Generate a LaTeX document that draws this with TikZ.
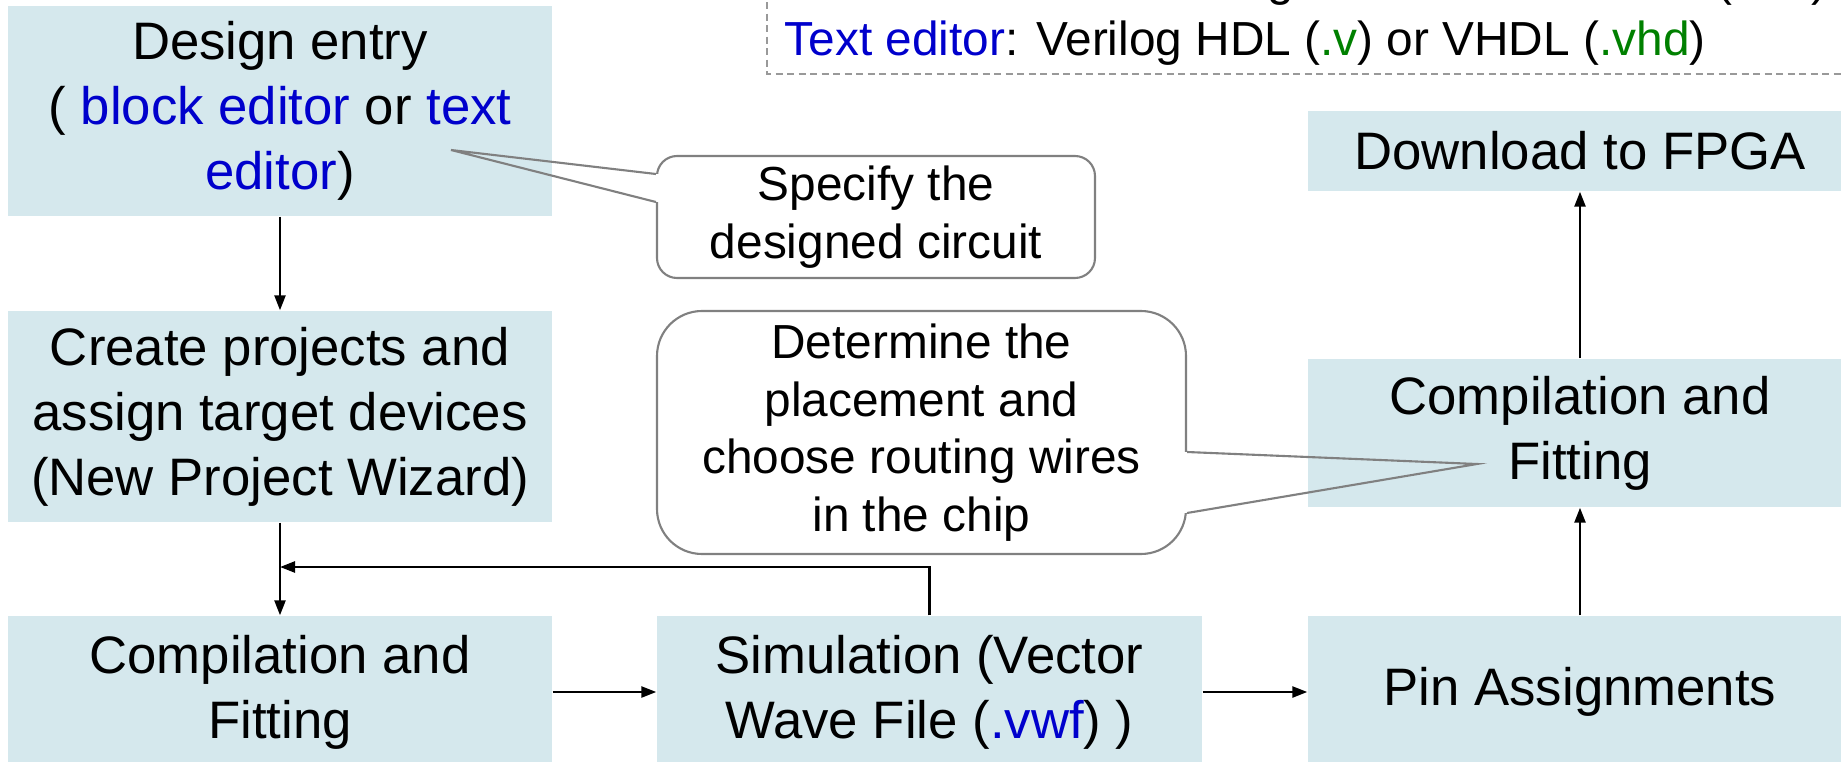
\documentclass[tikz,border=0pt]{standalone}
\usepackage{fontspec}
\setmainfont{Liberation Sans}
\usetikzlibrary{arrows.meta}

\definecolor{stepfill}{RGB}{213,232,237}
\definecolor{edblue}{RGB}{0,0,204}
\definecolor{edgreen}{RGB}{0,128,0}

\begin{document}
\begin{tikzpicture}[
    flowbox/.style={rectangle, fill=stepfill, minimum width=5.44cm, align=center, inner sep=2pt, font=\fontsize{15}{18.5}\selectfont},
    bubble/.style={rectangle, draw=black!50, line width=0.6pt, fill=white, align=center, inner sep=2pt, font=\fontsize{13.6}{16.4}\selectfont},
    pointer/.style={draw=black!50, line width=0.6pt},
    flow/.style={line width=0.7pt, -{Triangle[length=0.15cm, width=0.11cm]}},
    notedash/.style={draw=black!40, line width=0.6pt, dash pattern=on 0.07cm off 0.045cm},
    notetext/.style={anchor=base west, inner sep=0pt, font=\fontsize{13.6}{16.4}\selectfont}
]
\clip (0,0) rectangle (18.41,-7.62);

% ==================== EDITOR NOTE ====================
\draw[notedash] (7.67,0.9) rectangle (19.0,-0.74);
\node[notetext] (blockline) at (7.84,0.05) {{\color{edblue}Block editor}: Block Diagram/Schematic File ({\color{edgreen}.bdf})};
\node[notetext] (textline) at (7.84,-0.55) {{\color{edblue}Text editor}: Verilog HDL ({\color{edgreen}.v}) or VHDL ({\color{edgreen}.vhd})};

% ==================== DESIGN FLOW STEPS ====================
\node[flowbox, minimum height=2.10cm] (entry) at (2.80,-1.11) {Design entry\\( {\color{edblue}block editor} or {\color{edblue}text}\\{\color{edblue}editor})};
\node[flowbox, minimum height=2.11cm] (project) at (2.80,-4.165) {Create projects and\\assign target devices\\(New Project Wizard)};
\node[flowbox, minimum height=1.52cm] (compile1) at (2.80,-6.92) {Compilation and\\Fitting};
\node[flowbox, minimum height=1.52cm, minimum width=5.45cm] (simulate) at (9.295,-6.92) {Simulation (Vector\\Wave File ({\color{edblue}.vwf}) )};
\node[flowbox, minimum height=1.52cm] (pins) at (15.80,-6.92) {Pin Assignments};
\node[flowbox, minimum height=1.48cm] (compile2) at (15.80,-4.33) {Compilation and\\Fitting};
\node[flowbox, minimum height=0.80cm] (download) at (15.80,-1.51) {Download to FPGA};

% ==================== CALLOUTS ====================
\node[bubble, minimum width=4.38cm, minimum height=1.22cm, rounded corners=0.2cm] (specify) at (8.76,-2.17) {Specify the\\designed circuit};
\node[bubble, minimum width=5.29cm, minimum height=2.43cm, rounded corners=0.45cm] (placement) at (9.215,-4.325) {Determine the\\placement and\\choose routing wires\\in the chip};

\coordinate (tip_spec) at (4.51,-1.50);
\coordinate (tip_place) at (14.77,-4.64);

% open the border where the pointers leave
\fill[white] ([xshift=-0.03cm, yshift=0.43cm]specify.west) rectangle ([xshift=0.03cm, yshift=0.15cm]specify.west);
\fill[white] ([xshift=-0.03cm, yshift=-0.195cm]placement.east) rectangle ([xshift=0.03cm, yshift=-0.805cm]placement.east);
\draw[pointer] ([yshift=0.43cm]specify.west) -- (tip_spec) -- ([yshift=0.15cm]specify.west);
\draw[pointer] ([yshift=-0.195cm]placement.east) -- (tip_place) -- ([yshift=-0.805cm]placement.east);

% ==================== FLOW ARROWS ====================
\coordinate (rejoin) at (2.80,-5.67);
\draw[flow] (entry) -- (project);
\draw[flow] (project) -- (compile1);
\draw[flow] (simulate.north) |- (rejoin);
\draw[flow] (compile1) -- (simulate);
\draw[flow] (simulate) -- (pins);
\draw[flow] (pins) -- (compile2);
\draw[flow] (compile2) -- (download);

\end{tikzpicture}
\end{document}
